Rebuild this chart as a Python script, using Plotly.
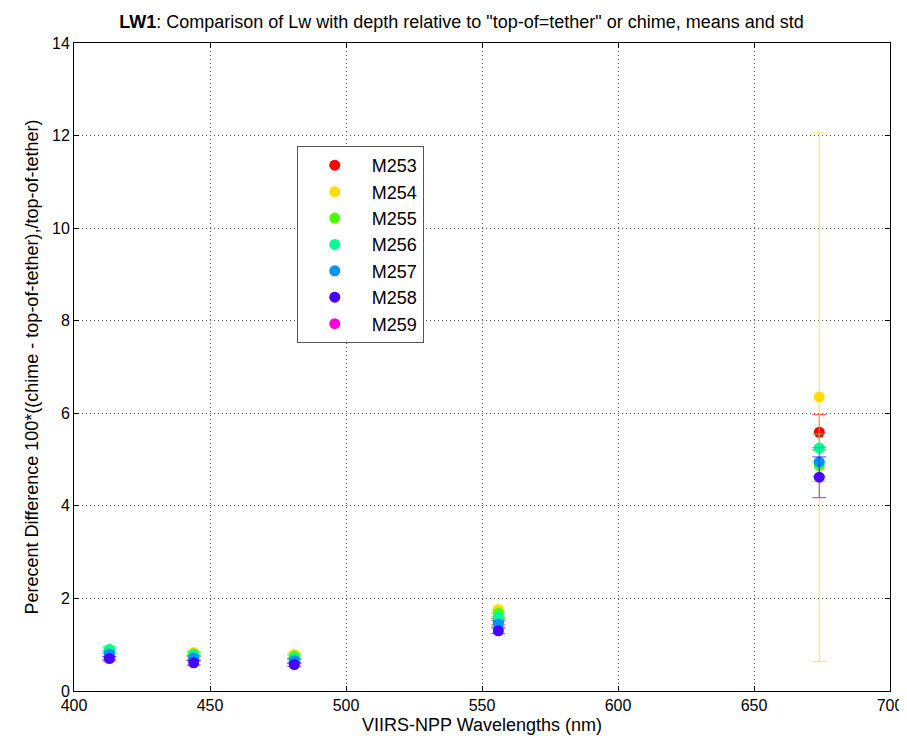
import plotly.graph_objects as go

wavelengths = [413, 444, 481, 556, 674]
series_names = ["M253", "M254", "M255", "M256", "M257", "M258", "M259"]
colors = ["#FF0000", "#FFDB00", "#49FF00", "#00FF92", "#0092FF", "#4900FF", "#FF00DB"]
bar_colors = ["rgba(255,0,0,0.6)", "rgba(255,219,0,0.6)", "rgba(73,255,0,0.6)", "rgba(0,255,146,0.6)",
              "rgba(0,146,255,0.6)", "rgba(73,0,255,0.6)", "rgba(255,0,219,0.6)"]

m253_mean = [0.75, 0.70, 0.64, 1.50, 5.59]
m253_std = [0.06, 0.05, 0.05, 0.07, 0.38]
m254_mean = [0.85, 0.83, 0.79, 1.76, 6.35]
m254_std = [0.05, 0.05, 0.05, 0.06, 5.71]
m255_mean = [0.87, 0.80, 0.75, 1.68, 4.87]
m255_std = [0.06, 0.05, 0.05, 0.07, 0.34]
m256_mean = [0.90, 0.78, 0.72, 1.60, 5.25]
m256_std = [0.06, 0.05, 0.05, 0.07, 0.30]
m257_mean = [0.80, 0.72, 0.66, 1.45, 4.95]
m257_std = [0.06, 0.05, 0.05, 0.07, 0.31]
m258_mean = [0.70, 0.61, 0.57, 1.30, 4.62]
m258_std = [0.05, 0.05, 0.04, 0.06, 0.44]
m259_mean = [None, None, None, None, None]
m259_std = [None, None, None, None, None]

means = [m253_mean, m254_mean, m255_mean, m256_mean, m257_mean, m258_mean, m259_mean]
stds = [m253_std, m254_std, m255_std, m256_std, m257_std, m258_std, m259_std]

FONT = "Liberation Sans, Arial, sans-serif"

fig = go.Figure()
for name, col, bcol, m, s in zip(series_names, colors, bar_colors, means, stds):
    fig.add_trace(go.Scatter(
        x=wavelengths, y=m, name=name, mode="markers",
        marker=dict(color=col, size=11, symbol="circle"),
        error_y=dict(type="data", array=s, visible=True, color=bcol, thickness=1.2, width=7),
    ))

axis_common = dict(
    showline=True, linecolor="#000000", linewidth=1, mirror="ticks",
    ticks="inside", ticklen=5, tickcolor="#000000",
    showgrid=True, gridcolor="#555555", griddash="1px,3px", gridwidth=1,
    zeroline=False, tickfont=dict(family=FONT, size=16, color="#000000"),
)

fig.update_layout(
    width=907, height=738,
    paper_bgcolor="white", plot_bgcolor="white",
    margin=dict(l=66, r=19, t=35, b=55),
    title=dict(
        text="<b>LW1</b>: Comparison of Lw with depth relative to \"top-of=tether\" or chime, means and std",
        x=0.5, xanchor="center", y=0.981, yanchor="middle",
        font=dict(family=FONT, size=18, color="#000000"),
    ),
    xaxis=dict(range=[400, 700], tickmode="array", tickvals=[400, 450, 500, 550, 600, 650, 700],
               title=dict(text="VIIRS-NPP Wavelengths (nm)", font=dict(family=FONT, size=18, color="#000000"), standoff=5),
               **axis_common),
    yaxis=dict(range=[0, 14], tickmode="array", tickvals=list(range(0, 15, 2)),
               title=dict(text="Perecent Difference 100*((chime - top-of-tether),/top-of-tether)",
                          font=dict(family=FONT, size=18, color="#000000"), standoff=8),
               **axis_common),
    legend=dict(
        x=0.273, y=0.841, xanchor="left", yanchor="top",
        bgcolor="white", bordercolor="#555555", borderwidth=1,
        font=dict(family=FONT, size=18, color="#000000"),
        tracegroupgap=0, itemwidth=64,
    ),
    showlegend=True,
)

fig.write_html("out.html")
